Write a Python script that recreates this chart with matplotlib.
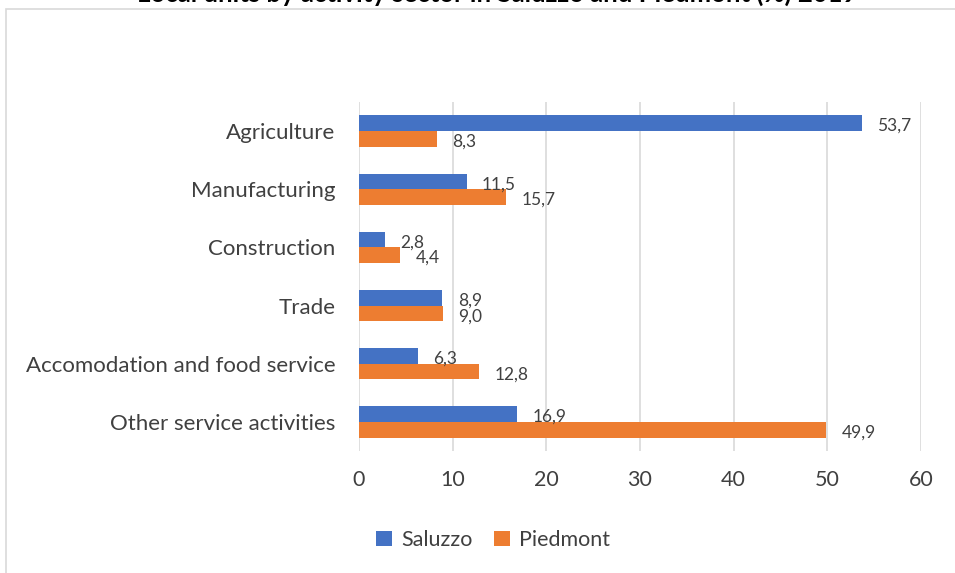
import numpy as np
import matplotlib.pyplot as plt
from matplotlib.patches import Rectangle

# data (percent of local units)
sectors = ["Agriculture", "Manufacturing", "Construction", "Trade",
           "Accomodation and food service", "Other service activities"]
saluzzo = [53.7, 11.5, 2.8, 8.9, 6.3, 16.9]
piedmont = [8.3, 15.7, 4.4, 9.0, 12.8, 49.9]
x_ticks = [0, 10, 20, 30, 40, 50, 60]

blue = "#4472C4"
orange = "#ED7D31"
text_col = "#404040"

plt.rcParams['font.family'] = ['Lato', 'DejaVu Sans']

fig = plt.figure(figsize=(9.55, 5.73), dpi=100)
ax = fig.add_axes([359 / 955, 1 - 451 / 573, (921 - 359) / 955, (451 - 102) / 573])

# outer chart frame, cut off on the right and bottom like the reference
fig.patches.append(Rectangle((6 / 955, -0.05), 1.05, 1 - 9 / 573 + 0.05,
                             transform=fig.transFigure, fill=False,
                             edgecolor="#D9D9D9", linewidth=1.2))

y = np.arange(len(sectors))
h = 0.27
bars_s = ax.barh(y - h / 2, saluzzo, height=h, color=blue, label="Saluzzo")
bars_p = ax.barh(y + h / 2, piedmont, height=h, color=orange, label="Piedmont")

# data labels, comma as decimal separator
for bars, vals in ((bars_s, saluzzo), (bars_p, piedmont)):
    for b, v in zip(bars, vals):
        ax.annotate(f"{v:.1f}".replace(".", ","),
                    (b.get_width(), b.get_y() + b.get_height() / 2),
                    xytext=(11, -2), textcoords="offset points",
                    va="center", ha="left", fontsize=12.5, color=text_col)

ax.set_xlim(0, 60)
ax.set_ylim(len(sectors) - 0.5, -0.5)
ax.set_xticks(x_ticks)
ax.set_yticks(y)
ax.set_yticklabels(sectors, fontsize=16, color=text_col)
ax.tick_params(axis="x", labelsize=15.5, labelcolor=text_col, length=0, pad=14)
ax.tick_params(axis="y", length=0, pad=17)
ax.grid(axis="x", color="#D9D9D9", linewidth=1.2)
ax.set_axisbelow(True)
for s in ax.spines.values():
    s.set_visible(False)

fig.legend(loc="center", bbox_to_anchor=(493 / 955, 1 - 540 / 573), ncol=2,
           frameon=False, fontsize=15.5, handlelength=0.75, handleheight=0.75,
           columnspacing=1.0, handletextpad=0.4, labelcolor=text_col)

# title sits mostly above the visible area in the reference
fig.text(497 / 955, 1 - 2 / 573, "Local units by activity sector in Saluzzo and Piedmont (%) 2019",
         ha="center", va="baseline", fontsize=18.5, fontweight="bold", color="black")

fig.savefig("out.png", dpi=100)
